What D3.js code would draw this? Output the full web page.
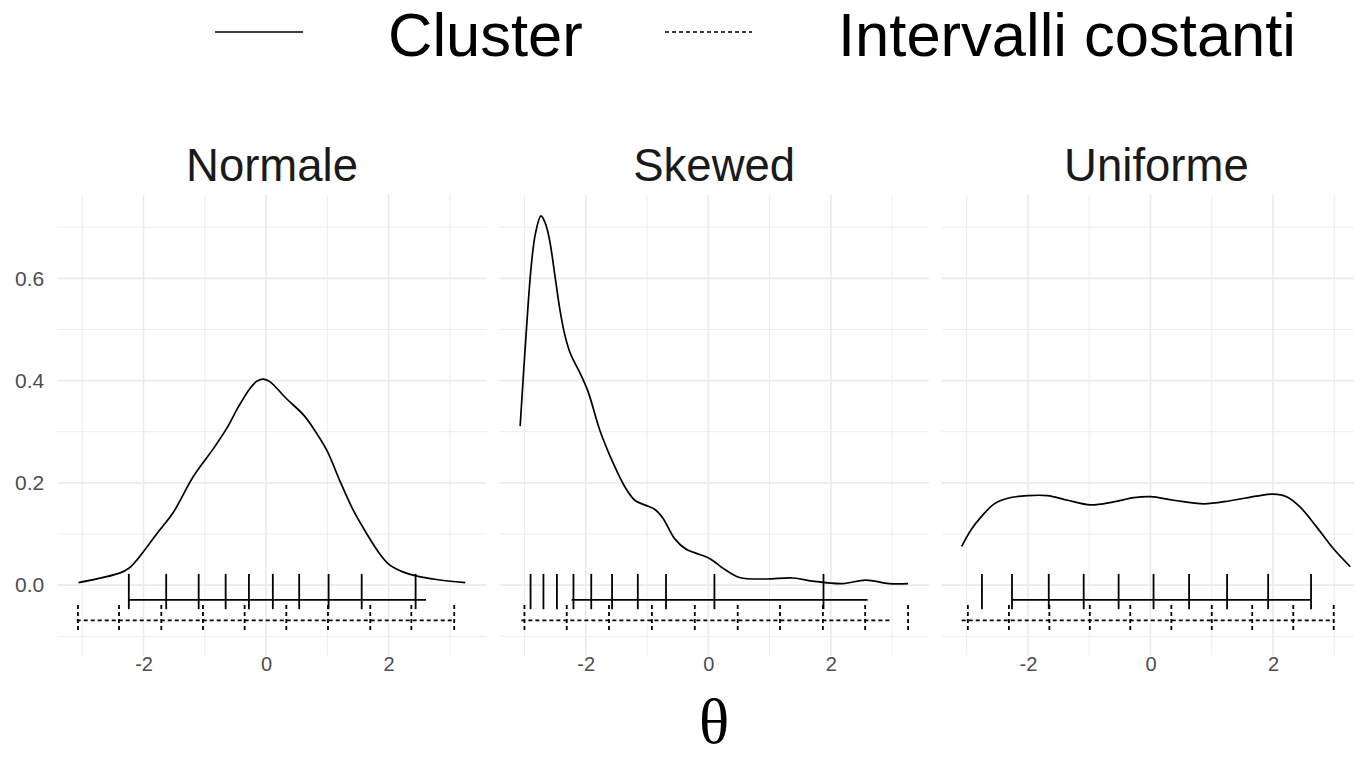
<!DOCTYPE html>
<html>
<head>
<meta charset="utf-8">
<script src="https://cdn.jsdelivr.net/npm/d3@7"></script>
<style>
  html, body { margin: 0; padding: 0; background: #ffffff; }
  svg { display: block; }
</style>
</head>
<body>
<svg id="chart" width="1354" height="757"></svg>
<script>
// ---------------- DATA ----------------
const panelNames = ["Normale", "Skewed", "Uniforme"];
const legendLabels = ["Cluster", "Intervalli costanti"];
const xTickValues = [-2, 0, 2];
const xTickLabels = ["-2", "0", "2"];
const yTickValues = [0, 0.2, 0.4, 0.6];
const yTickLabels = ["0.0", "0.2", "0.4", "0.6"];
const xMinorValues = [-3, -1, 1, 3];
const yMinorValues = [-0.1, 0.1, 0.3, 0.5, 0.7];

// density curves [theta, density]
const densityNormale = [
  [-3.06, 0.005], [-2.38, 0.024], [-2.24, 0.033], [-2.11, 0.049], [-1.78, 0.101],
  [-1.51, 0.143], [-1.19, 0.212], [-0.86, 0.267], [-0.64, 0.307], [-0.45, 0.349],
  [-0.26, 0.385], [-0.15, 0.399], [-0.04, 0.403], [0.06, 0.398], [0.33, 0.365],
  [0.61, 0.333], [0.77, 0.307], [0.99, 0.264], [1.20, 0.205], [1.42, 0.147],
  [1.64, 0.101], [1.85, 0.062], [2.02, 0.039], [2.23, 0.026], [2.45, 0.018],
  [2.78, 0.011], [3.25, 0.005]
];
const densitySkewed = [
  [-3.07, 0.311], [-2.99, 0.460], [-2.89, 0.623], [-2.82, 0.688], [-2.73, 0.722],
  [-2.66, 0.708], [-2.59, 0.675], [-2.50, 0.603], [-2.42, 0.538], [-2.34, 0.489],
  [-2.25, 0.453], [-2.09, 0.414], [-1.96, 0.378], [-1.77, 0.303], [-1.55, 0.238],
  [-1.36, 0.192], [-1.20, 0.166], [-1.04, 0.157], [-0.87, 0.148], [-0.74, 0.131],
  [-0.55, 0.091], [-0.36, 0.070], [-0.14, 0.060], [0.02, 0.052], [0.29, 0.029],
  [0.51, 0.015], [0.94, 0.012], [1.38, 0.014], [1.70, 0.008], [2.19, 0.003],
  [2.57, 0.010], [2.95, 0.003], [3.26, 0.003]
];
const densityUniforme = [
  [-3.08, 0.076], [-2.93, 0.108], [-2.76, 0.134], [-2.55, 0.159], [-2.33, 0.170],
  [-2.00, 0.175], [-1.68, 0.175], [-1.35, 0.166], [-0.98, 0.157], [-0.60, 0.163],
  [-0.27, 0.171], [0.00, 0.173], [0.38, 0.166], [0.87, 0.159], [1.30, 0.165],
  [1.73, 0.174], [2.00, 0.178], [2.22, 0.173], [2.44, 0.153], [2.71, 0.114],
  [2.98, 0.072], [3.26, 0.036]
];

// cluster cut points (solid) and range
const clusterNormale  = [-2.24, -1.63, -1.10, -0.66, -0.28, 0.11, 0.54, 1.02, 1.56, 2.44];
const clusterSkewed   = [-2.90, -2.69, -2.47, -2.20, -1.91, -1.57, -1.15, -0.69, 0.10, 1.88];
const clusterUniforme = [-2.75, -2.26, -1.66, -1.09, -0.52, 0.05, 0.63, 1.25, 1.92, 2.62];
const clusterRangeNormale  = [-2.24, 2.61];
const clusterRangeSkewed   = [-2.23, 2.60];
const clusterRangeUniforme = [-2.26, 2.62];

// equal-interval cut points (dotted) and range
const equalNormale  = [-3.07, -2.40, -1.71, -1.03, -0.35, 0.33, 1.01, 1.70, 2.37, 3.07];
const equalSkewed   = [-3.00, -2.31, -1.62, -0.92, -0.22, 0.48, 1.17, 1.87, 2.56, 3.26];
const equalUniforme = [-2.98, -2.31, -1.65, -0.99, -0.33, 0.34, 1.00, 1.66, 2.33, 2.99];
const equalRangeNormale  = [-3.09, 3.05];
const equalRangeSkewed   = [-3.05, 3.00];
const equalRangeUniforme = [-3.08, 2.99];

// vertical placement (in data units) of the reference marks
const clusterLevel = -0.029, clusterTickTop = 0.022, clusterTickBottom = -0.047;
const equalLevel = -0.069, equalTickTop = -0.039, equalTickBottom = -0.091;

// ---------------- LAYOUT ----------------
const panels = [
  { name: panelNames[0], dens: densityNormale,  cl: clusterNormale,  clR: clusterRangeNormale,  eq: equalNormale,  eqR: equalRangeNormale },
  { name: panelNames[1], dens: densitySkewed,   cl: clusterSkewed,   clR: clusterRangeSkewed,   eq: equalSkewed,   eqR: equalRangeSkewed },
  { name: panelNames[2], dens: densityUniforme, cl: clusterUniforme, clR: clusterRangeUniforme, eq: equalUniforme, eqR: equalRangeUniforme }
];

const panelLefts = [57.3, 499.5, 941.7];
const panelWidth = 429.4;
const panelTop = 195, panelBottom = 655.7;
const xDomain = [-3.407, 3.60];
const yDomain = [-0.138, 0.763];

const svg = d3.select("#chart");
const y = d3.scaleLinear().domain(yDomain).range([panelBottom, panelTop]);

const gridColor = "#EBEBEB";
const textGrey = "#4D4D4D";

panels.forEach((p, i) => {
  const x = d3.scaleLinear().domain(xDomain).range([panelLefts[i], panelLefts[i] + panelWidth]);
  const g = svg.append("g");

  // minor grid
  g.selectAll(".vminor").data(xMinorValues).join("line")
    .attr("x1", d => x(d)).attr("x2", d => x(d))
    .attr("y1", panelTop).attr("y2", panelBottom)
    .attr("stroke", gridColor).attr("stroke-width", 0.9);
  g.selectAll(".hminor").data(yMinorValues).join("line")
    .attr("x1", panelLefts[i]).attr("x2", panelLefts[i] + panelWidth)
    .attr("y1", d => y(d)).attr("y2", d => y(d))
    .attr("stroke", gridColor).attr("stroke-width", 0.9);
  // major grid
  g.selectAll(".vmajor").data(xTickValues).join("line")
    .attr("x1", d => x(d)).attr("x2", d => x(d))
    .attr("y1", panelTop).attr("y2", panelBottom)
    .attr("stroke", gridColor).attr("stroke-width", 1.6);
  g.selectAll(".hmajor").data(yTickValues).join("line")
    .attr("x1", panelLefts[i]).attr("x2", panelLefts[i] + panelWidth)
    .attr("y1", d => y(d)).attr("y2", d => y(d))
    .attr("stroke", gridColor).attr("stroke-width", 1.6);

  // x axis
  const xAxis = d3.axisBottom(x).tickValues(xTickValues).tickSize(0).tickPadding(0)
    .tickFormat((d, k) => xTickLabels[k]);
  const ax = svg.append("g").attr("transform", `translate(0,${panelBottom})`).call(xAxis);
  ax.select(".domain").remove();
  ax.selectAll("text")
    .attr("y", 15).attr("dy", 0)
    .attr("font-family", "Liberation Sans, Arial, sans-serif")
    .attr("font-size", 20).attr("fill", textGrey);

  // facet title
  svg.append("text")
    .attr("x", panelLefts[i] + panelWidth / 2).attr("y", 181)
    .attr("text-anchor", "middle")
    .attr("font-family", "Liberation Sans, Arial, sans-serif")
    .attr("font-size", 45.5).attr("fill", "#1A1A1A")
    .text(p.name);

  // density curve
  const line = d3.line().x(d => x(d[0])).y(d => y(d[1])).curve(d3.curveCatmullRom.alpha(0.5));
  g.append("path").datum(p.dens).attr("d", line)
    .attr("fill", "none").attr("stroke", "#000").attr("stroke-width", 1.7);

  // cluster: solid horizontal + ticks
  g.append("line")
    .attr("x1", x(p.clR[0])).attr("x2", x(p.clR[1]))
    .attr("y1", y(clusterLevel)).attr("y2", y(clusterLevel))
    .attr("stroke", "#000").attr("stroke-width", 1.7);
  g.selectAll(".cl").data(p.cl).join("line")
    .attr("x1", d => x(d)).attr("x2", d => x(d))
    .attr("y1", y(clusterTickTop)).attr("y2", y(clusterTickBottom))
    .attr("stroke", "#000").attr("stroke-width", 1.8);

  // equal intervals: dotted horizontal + ticks
  g.append("line")
    .attr("x1", x(p.eqR[0])).attr("x2", x(p.eqR[1]))
    .attr("y1", y(equalLevel)).attr("y2", y(equalLevel))
    .attr("stroke", "#000").attr("stroke-width", 1.7).attr("stroke-dasharray", "4,3");
  g.selectAll(".eq").data(p.eq).join("line")
    .attr("x1", d => x(d)).attr("x2", d => x(d))
    .attr("y1", y(equalTickTop)).attr("y2", y(equalTickBottom))
    .attr("stroke", "#000").attr("stroke-width", 1.8).attr("stroke-dasharray", "4,3");
});

// y axis (left of first panel)
const yAxis = d3.axisLeft(y).tickValues(yTickValues).tickSize(0).tickPadding(13)
  .tickFormat((d, k) => yTickLabels[k]);
const ay = svg.append("g").attr("transform", `translate(${panelLefts[0]},0)`).call(yAxis);
ay.select(".domain").remove();
ay.selectAll("text")
  .attr("font-family", "Liberation Sans, Arial, sans-serif")
  .attr("font-size", 21).attr("fill", textGrey);

// x axis title
svg.append("text")
  .attr("x", 714).attr("y", 743)
  .attr("text-anchor", "middle")
  .attr("font-family", "Liberation Serif, Times New Roman, serif")
  .attr("font-size", 63).attr("fill", "#000")
  .text("θ");

// legend
const legendItems = [
  { label: legendLabels[0], x1: 215, x2: 303, tx: 388, dash: null },
  { label: legendLabels[1], x1: 665, x2: 752, tx: 838, dash: "4,3" }
];
legendItems.forEach(it => {
  svg.append("line")
    .attr("x1", it.x1).attr("x2", it.x2).attr("y1", 32).attr("y2", 32)
    .attr("stroke", "#000").attr("stroke-width", 1.5)
    .attr("stroke-dasharray", it.dash);
  svg.append("text")
    .attr("x", it.tx).attr("y", 56)
    .attr("font-family", "Liberation Sans, Arial, sans-serif")
    .attr("font-size", 61.5).attr("fill", "#000")
    .text(it.label);
});
</script>
</body>
</html>
